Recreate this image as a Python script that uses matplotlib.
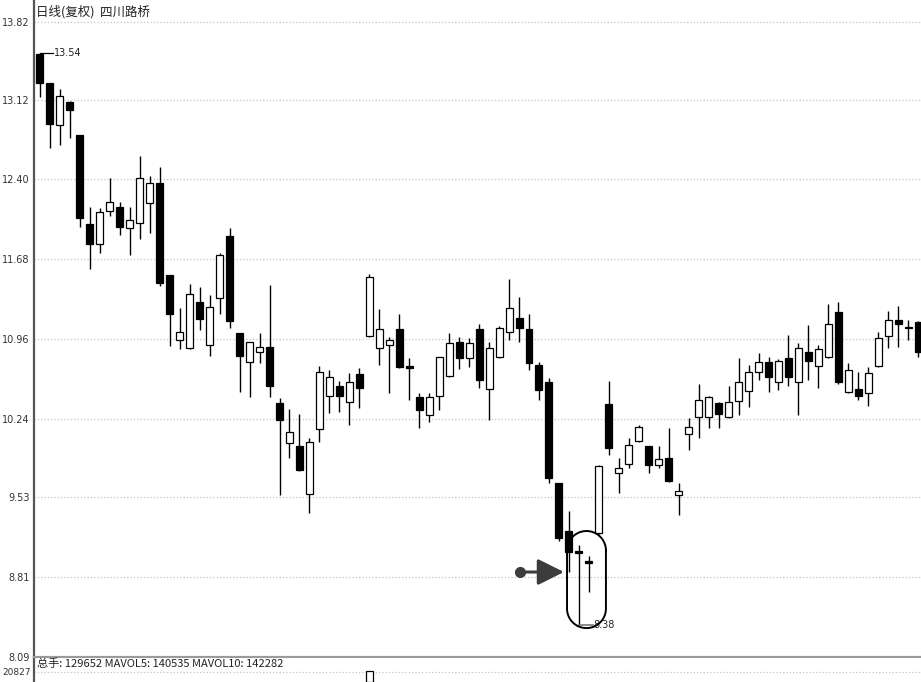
import matplotlib
matplotlib.use('Agg')
import matplotlib.pyplot as plt
import numpy as np
from matplotlib.patches import FancyArrowPatch

plt.rcParams['font.family'] = ['DejaVu Sans', 'Noto Sans CJK SC']

# 日K线数据 (开, 高, 低, 收)
opens = [13.53, 13.27, 12.89, 13.10, 12.80, 12.00, 11.82, 12.12, 12.15, 11.96,
         12.01, 12.19, 12.37, 11.54, 10.95, 10.88, 11.29, 10.91, 11.33, 11.89,
         11.01, 10.75, 10.84, 10.89, 10.38, 10.02, 9.99, 9.56, 10.15, 10.45,
         10.54, 10.39, 10.64, 10.99, 10.88, 10.91, 11.05, 10.72, 10.44, 10.27,
         10.45, 10.63, 10.93, 10.79, 11.05, 10.51, 10.80, 11.02, 11.15, 11.05,
         10.73, 10.57, 9.66, 9.23, 9.05, 8.95, 9.21, 10.37, 9.75, 9.83,
         10.04, 9.99, 9.82, 9.89, 9.55, 10.10, 10.26, 10.26, 10.38, 10.26,
         10.40, 10.49, 10.66, 10.75, 10.57, 10.79, 10.57, 10.84, 10.72, 10.80,
         11.20, 10.48, 10.51, 10.47, 10.72, 10.99, 11.13, 11.07, 11.11]
highs = [13.54, 13.27, 13.22, 13.11, 12.80, 12.15, 12.14, 12.41, 12.20, 12.15,
         12.61, 12.43, 12.51, 11.54, 11.24, 11.46, 11.43, 11.36, 11.74, 11.96,
         11.01, 10.93, 11.01, 11.45, 10.43, 10.33, 10.28, 10.07, 10.72, 10.68,
         10.58, 10.65, 10.70, 11.55, 11.23, 10.98, 11.19, 10.79, 10.47, 10.47,
         10.80, 11.01, 10.98, 10.97, 11.10, 10.93, 11.08, 11.50, 11.34, 11.19,
         10.75, 10.61, 9.66, 9.41, 9.10, 9.00, 9.82, 10.58, 9.89, 10.07,
         10.18, 9.99, 9.99, 10.16, 9.66, 10.25, 10.55, 10.45, 10.39, 10.54,
         10.79, 10.73, 10.83, 10.80, 10.78, 11.00, 10.92, 11.09, 10.91, 11.28,
         11.29, 10.74, 10.66, 10.71, 11.02, 11.21, 11.26, 11.13, 11.12]
lows = [13.14, 12.68, 12.71, 12.77, 11.97, 11.59, 11.74, 12.07, 11.90, 11.72,
        11.86, 11.92, 11.44, 10.90, 10.87, 10.87, 11.04, 10.81, 11.19, 11.06,
        10.48, 10.44, 10.74, 10.44, 9.55, 9.89, 9.77, 9.39, 10.03, 10.29,
        10.30, 10.18, 10.34, 10.98, 10.73, 10.47, 10.70, 10.41, 10.16, 10.21,
        10.32, 10.62, 10.69, 10.71, 10.52, 10.23, 10.79, 10.95, 10.93, 10.68,
        10.41, 9.66, 9.14, 8.86, 8.38, 8.68, 9.20, 9.91, 9.57, 9.80,
        10.03, 9.75, 9.80, 9.67, 9.37, 9.96, 10.07, 10.16, 10.16, 10.25,
        10.27, 10.35, 10.59, 10.48, 10.50, 10.54, 10.27, 10.59, 10.52, 10.79,
        10.55, 10.47, 10.41, 10.36, 10.71, 10.88, 10.89, 10.95, 10.80]
closes = [13.27, 12.90, 13.15, 13.03, 12.05, 11.82, 12.11, 12.20, 11.97, 12.03,
          12.41, 12.37, 11.47, 11.19, 11.02, 11.37, 11.14, 11.25, 11.72, 11.12,
          10.81, 10.93, 10.89, 10.54, 10.23, 10.12, 9.78, 10.03, 10.66, 10.62,
          10.45, 10.57, 10.52, 11.52, 11.05, 10.95, 10.71, 10.70, 10.32, 10.44,
          10.80, 10.92, 10.79, 10.92, 10.59, 10.88, 11.06, 11.24, 11.06, 10.74,
          10.50, 9.71, 9.16, 9.04, 9.03, 8.94, 9.81, 9.98, 9.80, 10.00,
          10.17, 9.82, 9.88, 9.68, 9.59, 10.17, 10.41, 10.44, 10.28, 10.39,
          10.57, 10.66, 10.75, 10.62, 10.76, 10.62, 10.88, 10.76, 10.87, 11.10,
          10.57, 10.68, 10.45, 10.65, 10.97, 11.13, 11.10, 11.06, 10.84]

price_ticks = [8.09, 8.81, 9.53, 10.24, 10.96, 11.68, 12.40, 13.12, 13.82]
price_labels = ['8.09', '8.81', '9.53', '10.24', '10.96', '11.68', '12.40', '13.12', '13.82']
max_price = 13.54
min_price = 8.38

title = '日线(复权)  四川路桥'
volume_info = '总手: 129652 MAVOL5: 140535 MAVOL10: 142282'
vol_index = [33]
vol_value = [22500]
vol_tick = 20827

cjk = ['Noto Sans CJK SC', 'DejaVu Sans']


def main():
    o = np.array(opens)
    h = np.array(highs)
    l = np.array(lows)
    c = np.array(closes)
    x = np.arange(len(o))
    up = c >= o

    fig = plt.figure(figsize=(9.21, 6.82), dpi=100)
    ax = fig.add_axes([34 / 921, 25 / 682, 887 / 921, 657 / 682])

    # 影线和实体
    ax.vlines(x, l, h, color='black', lw=1.0, zorder=2)
    body = np.maximum(np.abs(c - o), 0.012)
    ax.bar(x, body, bottom=np.minimum(o, c), width=0.7,
           color=np.where(up, 'white', 'black'), edgecolor='black', lw=0.9, zorder=3)

    ax.set_xlim(-0.6, 88.28)
    ax.set_ylim(8.09, 14.02)
    ax.set_xticks([])
    ax.set_yticks(price_ticks, price_labels)
    ax.tick_params(axis='y', length=0, pad=3, labelsize=7, labelcolor='#333333')
    ax.grid(axis='y', linestyle=':', color='#c4c4c4', lw=0.9)
    for s in ['top', 'right']:
        ax.spines[s].set_visible(False)
    ax.spines['left'].set_color('#555555')
    ax.spines['left'].set_linewidth(1.6)
    ax.spines['bottom'].set_color('#9a9a9a')
    ax.spines['bottom'].set_linewidth(1.5)

    # 最高价 / 最低价标注
    i_max = int(np.argmax(h))
    ax.plot([i_max, i_max + 1.3], [max_price, max_price], color='black', lw=0.9, zorder=4)
    ax.text(i_max + 1.4, max_price, '13.54', va='center', fontsize=7, color='#222222')
    i_min = int(np.argmin(l))
    ax.plot([i_min, i_min + 1.4], [min_price, min_price], color='#777777', lw=1.2, zorder=4)
    ax.text(i_min + 1.5, min_price, '8.38', va='center', fontsize=7, color='#222222')

    # 圈出底部
    cx, rx, ry = i_min + 0.76, 1.95, 0.176
    y_top, y_bot = 9.051, 8.527
    t1 = np.linspace(0, np.pi, 60)
    t2 = np.linspace(np.pi, 2 * np.pi, 60)
    px = np.concatenate([cx + rx * np.cos(t1), cx + rx * np.cos(t2), [cx + rx]])
    py = np.concatenate([y_top + ry * np.sin(t1), y_bot + ry * np.sin(t2), [y_top]])
    ax.plot(px, py, color='black', lw=1.4, zorder=5)

    # 箭头
    ay = 8.857
    ax.plot([48.1], [ay], 'o', color='#3c3c3c', markersize=7, zorder=5)
    arr = FancyArrowPatch((48.1, ay), (52.5, ay),
                          arrowstyle='-|>,head_length=0.8,head_width=0.4',
                          mutation_scale=20, lw=2.2, color='#3c3c3c',
                          shrinkA=0, shrinkB=0, zorder=5)
    ax.add_patch(arr)

    fig.text(36 / 921, 1 - 12 / 682, title, va='center', fontsize=9,
             family=cjk, color='#222222')

    # 成交量
    ax2 = fig.add_axes([34 / 921, 0, 887 / 921, 25 / 682])
    ax2.bar(vol_index, vol_value, width=0.7, color='white', edgecolor='black', lw=0.9, zorder=3)
    ax2.set_xlim(-0.6, 88.28)
    ax2.set_ylim(0, 52000)
    ax2.set_xticks([])
    ax2.set_yticks([vol_tick], [str(vol_tick)])
    ax2.tick_params(axis='y', length=0, pad=2, labelsize=6.5, labelcolor='#333333')
    ax2.grid(axis='y', linestyle=':', color='#c4c4c4', lw=0.9)
    for s in ['bottom', 'right']:
        ax2.spines[s].set_visible(False)
    ax2.spines['left'].set_color('#555555')
    ax2.spines['left'].set_linewidth(1.6)
    ax2.spines['top'].set_color('#9a9a9a')
    ax2.spines['top'].set_linewidth(1.5)
    ax2.text(0.003, 0.72, volume_info, transform=ax2.transAxes, va='center',
             fontsize=8, family=cjk, color='#222222')

    fig.savefig('out.png', dpi=100)


if __name__ == '__main__':
    main()
